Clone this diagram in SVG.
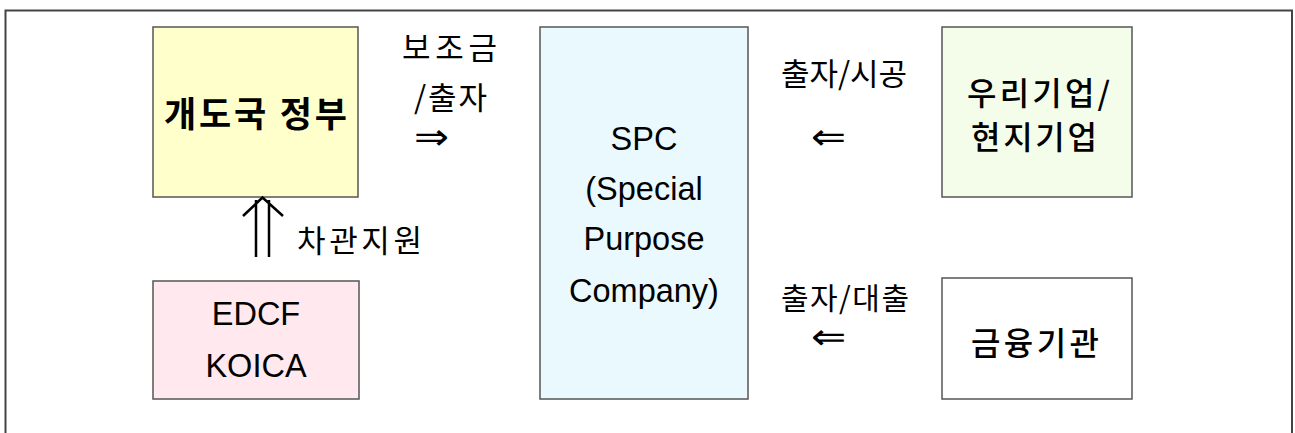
<svg xmlns="http://www.w3.org/2000/svg" width="1295" height="433" viewBox="0 0 1295 433">
<style>
.box{stroke:#555;stroke-width:1.5}
.ko{font-family:"Noto Sans CJK KR","Noto Sans",sans-serif;fill:#000}
.lat{font-family:"Liberation Sans",Arial,sans-serif;font-size:32.5px;fill:#000;text-anchor:middle}
.lbl{font-size:31px}
.arr{font-family:"DejaVu Sans",sans-serif;font-size:36px;fill:#000}
.conn{stroke:#000;stroke-width:2.5;fill:none}
</style>
<rect x="0" y="0" width="1295" height="433" fill="#fff"/>
<path d="M5.5,440 V10.5 H1292 V440" fill="none" stroke="#444" stroke-width="2"/>

<g id="gov">
<rect class="box" x="153" y="27" width="205" height="170" fill="#FFFFCC"/>
<text class="ko" x="164" y="127" font-size="35" font-weight="bold" textLength="183" lengthAdjust="spacing">개도국 정부</text>
</g>

<g id="edcf">
<rect class="box" x="153" y="281" width="206" height="118" fill="#FFE9EE"/>
<text class="lat" x="256" y="325">EDCF</text>
<text class="lat" x="256" y="377">KOICA</text>
</g>

<g id="spc">
<rect class="box" x="540" y="27" width="208" height="372" fill="#EAF9FD"/>
<text class="lat" x="644" y="150">SPC</text>
<text class="lat" x="644" y="200">(Special</text>
<text class="lat" x="644" y="250">Purpose</text>
<text class="lat" x="644" y="302">Company)</text>
</g>

<g id="firms">
<rect class="box" x="942" y="27" width="190" height="170" fill="#F3FDE9"/>
<text class="ko" x="967" y="105" font-size="32" font-weight="500" textLength="143" lengthAdjust="spacing">우리기업/</text>
<text class="ko" x="971" y="149" font-size="32" font-weight="500" textLength="126" lengthAdjust="spacing">현지기업</text>
</g>

<g id="finance">
<rect class="box" x="942" y="278" width="190" height="121" fill="#FFFFFF"/>
<text class="ko" x="971" y="355" font-size="32" font-weight="500" textLength="128" lengthAdjust="spacing">금융기관</text>
</g>

<g id="connectors">
<path class="conn" d="M256,257 V200 M269,257 V200 M243,216 L262.5,197.5 L283,216"/>
<text class="ko lbl" x="297" y="252" textLength="125" lengthAdjust="spacing">차관지원</text>
<text class="ko lbl" x="402" y="59" textLength="95" lengthAdjust="spacing">보조금</text>
<text class="ko lbl" x="414" y="109" textLength="73" lengthAdjust="spacing">/출자</text>
<text class="arr" x="414" y="149" textLength="35" lengthAdjust="spacingAndGlyphs">⇒</text>
<text class="ko lbl" x="781" y="85" textLength="126" lengthAdjust="spacing">출자/시공</text>
<text class="arr" x="811" y="149" textLength="35" lengthAdjust="spacingAndGlyphs">⇐</text>
<text class="ko" x="781" y="309" font-size="30" textLength="128" lengthAdjust="spacing">출자/대출</text>
<text class="arr" x="811" y="349" font-size="26" font-weight="200" fill="#444" textLength="35" lengthAdjust="spacingAndGlyphs">⇐</text>
</g>
</svg>
